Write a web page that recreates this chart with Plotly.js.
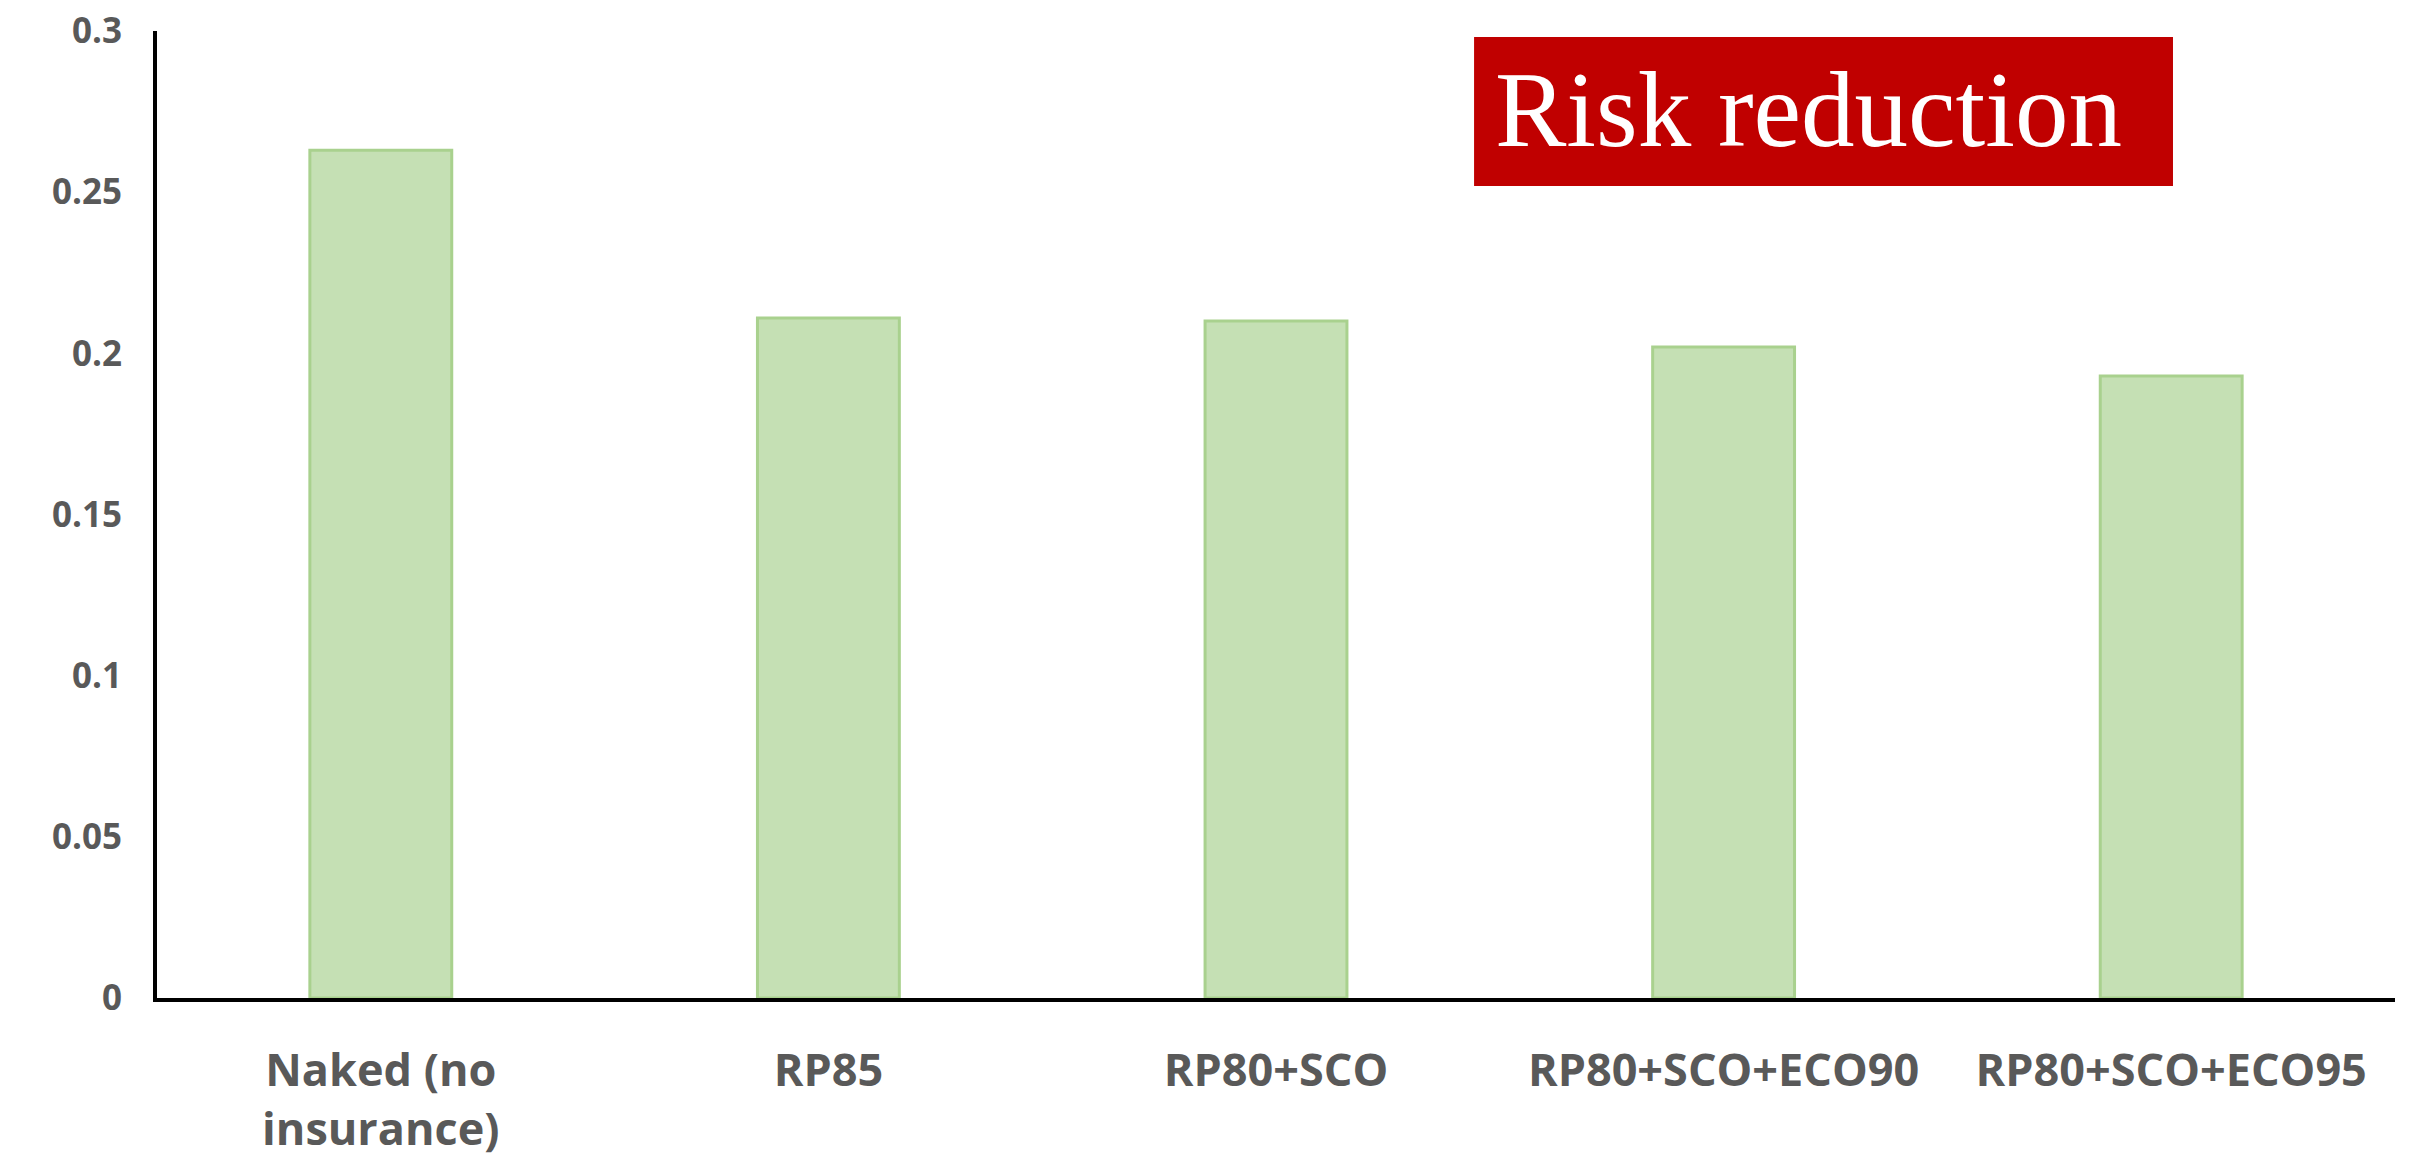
<!DOCTYPE html>
<html>
<head>
<meta charset="utf-8">
<script src="https://cdn.plot.ly/plotly-3.0.1.min.js"></script>
<style>
  html, body { margin: 0; padding: 0; background: #fff; }
  #chart { width: 2415px; height: 1159px; }
</style>
</head>
<body>
<div id="chart"></div>
<script>
const categories = ["Naked (no<br>insurance)", "RP85", "RP80+SCO", "RP80+SCO+ECO90", "RP80+SCO+ECO95"];
const values = [0.263, 0.211, 0.210, 0.202, 0.193];
const yTicks = [0, 0.05, 0.1, 0.15, 0.2, 0.25, 0.3];
const yTickLabels = ["0", "0.05", "0.1", "0.15", "0.2", "0.25", "0.3"];
const boxLabel = "Risk reduction";

const trace = {
  type: "bar",
  x: categories,
  y: values,
  width: 0.317,
  marker: {
    color: "#C5E0B4",
    line: { color: "#A9D18E", width: 3 }
  },
  hoverinfo: "x+y"
};

const layout = {
  width: 2415,
  height: 1159,
  margin: { l: 157, r: 20, t: 31, b: 161 },
  paper_bgcolor: "#ffffff",
  plot_bgcolor: "#ffffff",
  showlegend: false,
  xaxis: {
    type: "category",
    range: [-0.5, 4.5],
    showgrid: false,
    zeroline: false,
    showline: true,
    linecolor: "#000000",
    linewidth: 4,
    ticks: "",
    ticklabelstandoff: 30,
    tickfont: { family: "Open Sans", size: 45, color: "#595959", weight: "bold" }
  },
  yaxis: {
    range: [0, 0.3],
    tickmode: "array",
    tickvals: yTicks,
    ticktext: yTickLabels,
    showgrid: false,
    zeroline: false,
    showline: true,
    linecolor: "#000000",
    linewidth: 4,
    ticks: "",
    ticklabelstandoff: 24,
    tickfont: { family: "Open Sans", size: 35, color: "#595959", weight: "bold" }
  },
  shapes: [{
    type: "rect",
    xref: "paper", yref: "paper",
    x0: 0.5885, x1: 0.9008, y0: 0.8397, y1: 0.9938,
    fillcolor: "#C00000",
    line: { width: 0 },
    layer: "above"
  }],
  annotations: [{
    xref: "paper", yref: "paper",
    x: 0.597, y: 0.918,
    xanchor: "left", yanchor: "middle",
    text: boxLabel,
    showarrow: false,
    font: { family: "Liberation Serif", size: 107, color: "#ffffff" }
  }]
};

Plotly.newPlot("chart", [trace], layout, { displayModeBar: false, staticPlot: true });
</script>
</body>
</html>
